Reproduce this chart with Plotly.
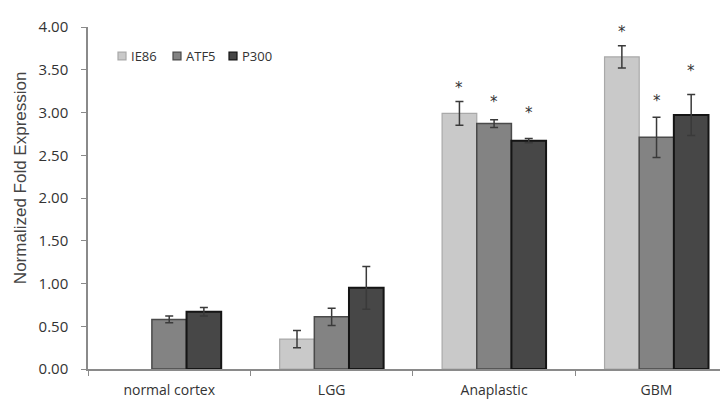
import plotly.graph_objects as go

categories = ["normal cortex", "LGG", "Anaplastic", "GBM"]
series_names = ["IE86", "ATF5", "P300"]
ie86 = [None, 0.35, 2.99, 3.65]
ie86_err = [0.0, 0.10, 0.14, 0.13]
atf5 = [0.58, 0.61, 2.87, 2.71]
atf5_err = [0.04, 0.10, 0.045, 0.235]
p300 = [0.67, 0.95, 2.67, 2.97]
p300_err = [0.05, 0.25, 0.025, 0.24]
# significance markers (y position of asterisk, None = no marker)
ie86_star = [None, None, 3.29, 3.94]
atf5_star = [None, None, 3.12, 3.14]
p300_star = [None, None, 3.00, 3.48]
y_title = "Normalized Fold Expression"

fills = ["#c9c9c9", "#838383", "#474747"]
borders = ["#a9a9a9", "#4a4a4a", "#151515"]
bwidths = [1.2, 1.5, 2]

# page body has an 8px margin; compensate so the plot lands where the reference is
OFF = 8
W, H = 728, 399
L, T = 88 - OFF, 18 - OFF
B = H - (371 - OFF)
R = OFF
PW = W - L - R
PH = H - T - B


def px(xw):
    return (xw - OFF - L) / PW


def py(yw):
    return 1 - (yw - OFF - T) / PH


fig = go.Figure()
for name, vals, errs, fc, bc, bw in zip(series_names, [ie86, atf5, p300],
                                        [ie86_err, atf5_err, p300_err], fills, borders, bwidths):
    fig.add_trace(go.Bar(
        name=name, x=categories, y=vals,
        marker=dict(color=fc, line=dict(color=bc, width=bw)),
        error_y=dict(type="data", array=errs, color="#3a3a3a", thickness=1.5, width=4,
                     visible=True),
        showlegend=False,
    ))

n = len(series_names)
group_w = 0.64
bw_unit = group_w / n
for i, stars in enumerate([ie86_star, atf5_star, p300_star]):
    for j, s in enumerate(stars):
        if s is None:
            continue
        fig.add_annotation(
            x=j - group_w / 2 + bw_unit * (i + 0.5), y=s, xref="x", yref="y",
            text="*", showarrow=False, font=dict(size=15, color="#333333", family="DejaVu Sans"),
            yanchor="middle",
        )

# custom compact legend
leg_x = [118, 173, 229]
for i, name in enumerate(series_names):
    x0 = leg_x[i]
    fig.add_shape(type="rect", xref="paper", yref="paper",
                  x0=px(x0), x1=px(x0 + 8), y0=py(52), y1=py(44),
                  fillcolor=fills[i], line=dict(color=borders[i], width=1.2))
    fig.add_annotation(xref="paper", yref="paper", x=px(x0 + 11), y=py(48),
                       text=name, showarrow=False, xanchor="left", yanchor="middle",
                       font=dict(size=13, color="#333333", family="Open Sans"))

fig.add_annotation(xref="paper", yref="paper", x=px(20), y=py(174), text=y_title,
                   textangle=-90, showarrow=False, xanchor="center", yanchor="middle",
                   font=dict(size=17, color="#444444", family="Liberation Sans"))

fig.update_layout(
    width=W, height=H,
    margin=dict(l=L, r=R, t=T, b=B),
    paper_bgcolor="white", plot_bgcolor="white",
    barmode="group", bargap=0.36, bargroupgap=0,
    font=dict(family="Open Sans", size=12, color="#333333"),
    showlegend=False,
)
fig.update_xaxes(
    type="category", range=[-0.5, 3.44], showline=True, linecolor="#8a8a8a", linewidth=1.5,
    ticks="outside", tickson="boundaries", ticklen=5, tickcolor="#8a8a8a",
    tickfont=dict(size=14, color="#333333"), showgrid=False, ticklabelstandoff=7,
)
fig.update_yaxes(
    range=[0, 4], tickvals=[0, 0.5, 1, 1.5, 2, 2.5, 3, 3.5, 4], tickformat=".2f",
    showline=True, linecolor="#8a8a8a", linewidth=1.5,
    ticks="outside", ticklen=5, tickcolor="#8a8a8a", showgrid=False, zeroline=False,
    tickfont=dict(size=15, color="#333333"), ticklabelstandoff=10,
    ticklabeloverflow="allow",
)

fig.write_html("out.html")
